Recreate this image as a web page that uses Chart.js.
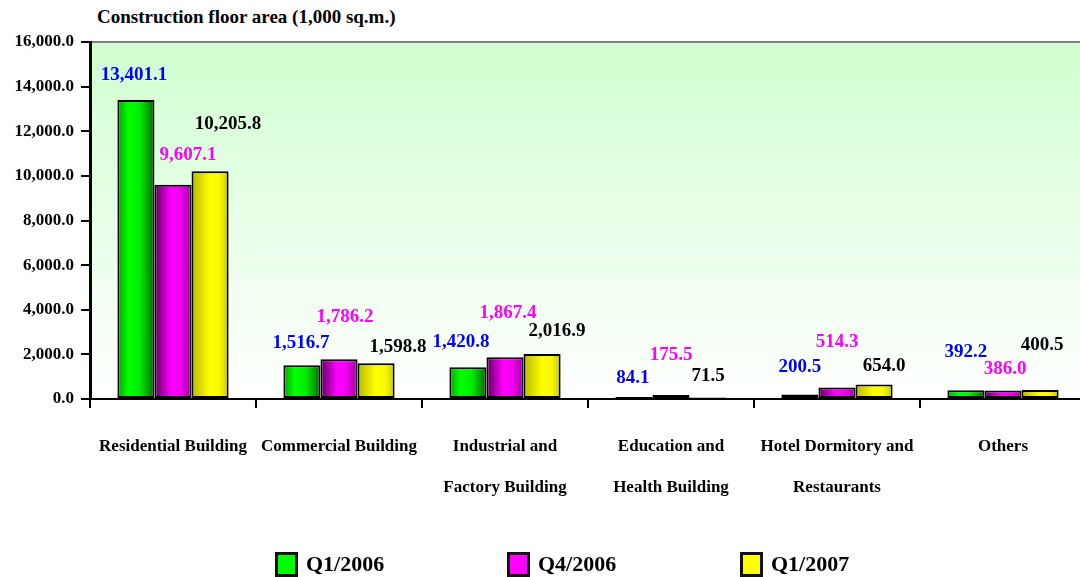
<!DOCTYPE html>
<html>
<head>
<meta charset="utf-8">
<script src="https://cdn.jsdelivr.net/npm/chart.js@4/dist/chart.umd.min.js"></script>
<style>
    html, body {
        margin: 0;
        padding: 0;
        background: #ffffff;
        width: 1080px;
        height: 577px;
        overflow: hidden;
        font-family: "Liberation Serif", "Times New Roman", serif;
    }
    .wrap {
        position: relative;
        width: 1080px;
        height: 577px;
        overflow: hidden;
    }
    #floorChart {
        position: absolute;
        left: 0;
        top: 0;
    }
    .title {
        position: absolute;
        left: 97px;
        top: 6px;
        font-weight: bold;
        font-size: 19px;
        color: #000;
    }
    .legend-item {
        position: absolute;
        top: 551px;
        display: flex;
        align-items: center;
        font-weight: bold;
        font-size: 22px;
        color: #000;
    }
    .legend-item .box {
        width: 17px;
        height: 19px;
        border: 3px solid #111;
        margin-right: 8px;
    }
</style>
</head>
<body>
<div class="wrap">
    <div class="title">Construction floor area (1,000 sq.m.)</div>
    <canvas id="floorChart" width="1086" height="577"></canvas>
    <div id="legend"></div>
</div>
<script>
const categories = [
    'Residential Building',
    'Commercial Building',
    ['Industrial and', 'Factory Building'],
    ['Education and', 'Health Building'],
    ['Hotel Dormitory and', 'Restaurants'],
    'Others'
];
const seriesNames = ['Q1/2006', 'Q4/2006', 'Q1/2007'];
const q1_2006 = [13401.1, 1516.7, 1420.8, 84.1, 200.5, 392.2];
const q4_2006 = [9607.1, 1786.2, 1867.4, 175.5, 514.3, 386.0];
const q1_2007 = [10205.8, 1598.8, 2016.9, 71.5, 654.0, 400.5];
const yTicks = [0, 2000, 4000, 6000, 8000, 10000, 12000, 14000, 16000];

// label nudges [dx, dy above bar top], as placed in the original
const labelNudge = [
    [[-2, 25], [-1, 22], [-7, 25], [-1, 19], [0, 27], [0, 38]],
    [[15, 30], [6, 42], [3, 44], [0, 40], [0, 45], [2, 21]],
    [[18, 47], [22, 16], [15, 23], [0, 21], [10, 18], [2, 45]]
];
const labelColors = ['#0000ff', '#ff00ff', '#000000'];
const flatColors = ['#00ff00', '#ff00ff', '#ffff00'];
const gradStops = [
    [[0, '#00a800'], [0.3, '#00ff00'], [0.6, '#00ee00'], [1, '#006a00']],
    [[0, '#5c005c'], [0.45, '#ff00ff'], [0.7, '#f000f0'], [1, '#a000a0']],
    [[0, '#b8b800'], [0.5, '#ffff00'], [0.75, '#f8f800'], [1, '#c8c800']]
];

const serif = '"Liberation Serif", "Times New Roman", serif';
const fmt = v => v.toLocaleString('en-US', { minimumFractionDigits: 1, maximumFractionDigits: 1 });

function barFill(ds) {
    return function(c) {
        const chart = c.chart;
        const area = chart.chartArea;
        const xs = chart.scales.x;
        if (!area || !xs || c.dataIndex === undefined) return flatColors[ds];
        const catW = (area.right - area.left) / categories.length;
        const bw = catW * 0.67 / 3;
        const left = xs.getPixelForValue(c.dataIndex) - 1.5 * bw + ds * bw;
        const g = chart.ctx.createLinearGradient(left, 0, left + bw, 0);
        gradStops[ds].forEach(s => g.addColorStop(s[0], s[1]));
        return g;
    };
}

const plotBackground = {
    id: 'plotBackground',
    beforeDraw(chart) {
        const { ctx, chartArea: a } = chart;
        const g = ctx.createLinearGradient(0, a.top, 0, a.bottom);
        g.addColorStop(0, '#d0ffd0');
        g.addColorStop(1, '#ffffff');
        ctx.save();
        ctx.fillStyle = g;
        ctx.fillRect(a.left, a.top, a.right - a.left, a.bottom - a.top);
        ctx.strokeStyle = '#808080';
        ctx.lineWidth = 2;
        ctx.beginPath();
        ctx.moveTo(a.left, a.top);
        ctx.lineTo(a.right, a.top);
        ctx.stroke();
        ctx.restore();
    }
};

const valueLabels = {
    id: 'valueLabels',
    afterDatasetsDraw(chart) {
        const ctx = chart.ctx;
        ctx.save();
        ctx.font = 'bold 19px ' + serif;
        ctx.textAlign = 'center';
        ctx.textBaseline = 'middle';
        chart.data.datasets.forEach((ds, i) => {
            const meta = chart.getDatasetMeta(i);
            ctx.fillStyle = labelColors[i];
            meta.data.forEach((bar, j) => {
                const n = labelNudge[i][j];
                ctx.fillText(fmt(ds.data[j]), bar.x + n[0], bar.y - n[1]);
            });
        });
        ctx.restore();
    }
};

const seriesData = [q1_2006, q4_2006, q1_2007];

new Chart(document.getElementById('floorChart'), {
    type: 'bar',
    data: {
        labels: categories,
        datasets: seriesData.map((d, i) => ({
            label: seriesNames[i],
            data: d,
            backgroundColor: barFill(i),
            borderColor: '#000000',
            borderWidth: 2,
            borderSkipped: false,
            categoryPercentage: 0.67,
            barPercentage: 1.0
        }))
    },
    options: {
        responsive: false,
        devicePixelRatio: 1,
        animation: false,
        layout: { padding: { top: 42, left: 0, right: 0, bottom: 0 } },
        plugins: {
            legend: { display: false },
            tooltip: { enabled: false }
        },
        scales: {
            x: {
                afterFit(s) { s.height = 178; },
                grid: {
                    offset: true,
                    drawOnChartArea: false,
                    drawTicks: true,
                    tickLength: 9,
                    color: '#000000',
                    lineWidth: 2
                },
                border: { display: true, color: '#000000', width: 2 },
                ticks: {
                    color: '#000000',
                    font: { family: serif, size: 17, weight: 'bold', lineHeight: 2.42 },
                    padding: 18,
                    maxRotation: 0,
                    autoSkip: false
                }
            },
            y: {
                min: 0,
                max: 16000,
                afterFit(s) { s.width = 90; },
                afterBuildTicks(s) { s.ticks = yTicks.map(v => ({ value: v })); },
                grid: {
                    drawOnChartArea: false,
                    drawTicks: true,
                    tickLength: 9,
                    color: '#000000',
                    lineWidth: 2
                },
                border: { display: true, color: '#000000', width: 3 },
                ticks: {
                    color: '#000000',
                    font: { family: serif, size: 17, weight: 'bold' },
                    padding: 7,
                    callback: v => fmt(v)
                }
            }
        }
    },
    plugins: [plotBackground, valueLabels]
});

// legend
const legendLeft = [275, 507, 740];
const legendEl = document.getElementById('legend');
seriesNames.forEach((name, i) => {
    const item = document.createElement('div');
    item.className = 'legend-item';
    item.style.left = legendLeft[i] + 'px';
    item.innerHTML = '<div class="box" style="background:' + flatColors[i] + '"></div><span>' + name + '</span>';
    legendEl.appendChild(item);
});
</script>
</body>
</html>
